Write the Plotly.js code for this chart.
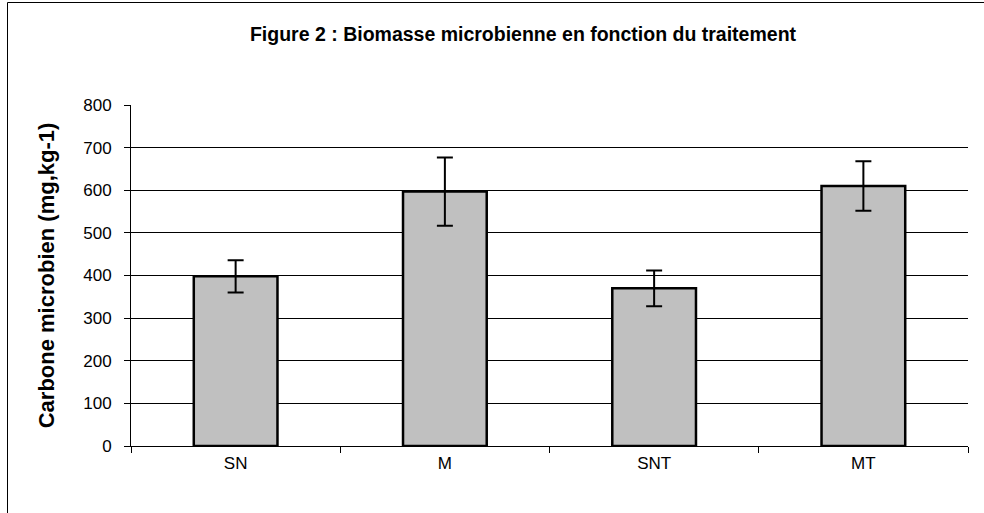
<!DOCTYPE html>
<html>
<head>
<meta charset="utf-8">
<script src="https://cdn.plot.ly/plotly-3.0.1.min.js"></script>
<style>html,body{margin:0;padding:0;background:#fff;}#chart{width:984px;height:513px;}</style>
</head>
<body>
<div id="chart"></div>
<script>
var categories = ["SN", "M", "SNT", "MT"];
var values = [398, 597, 370, 610];
var errors = [38, 80, 42, 58];
var yTicks = [0, 100, 200, 300, 400, 500, 600, 700, 800];

var L = 131, R = 16, T = 105, B = 67, W = 984, H = 513;
var pw = W - L - R, ph = H - T - B;
function px2x(p){ return (p - L) / pw; }
function py2y(p){ return (H - B - p) / ph; }

var trace = {
  type: "bar",
  x: categories,
  y: values,
  marker: {color: "#c0c0c0", line: {color: "#000000", width: 2.5}},
  error_y: {type: "data", array: errors, visible: true, color: "#000000", thickness: 2, width: 8},
  hoverinfo: "skip"
};

var layout = {
  width: W, height: H,
  margin: {l: L, r: R, t: T, b: B},
  paper_bgcolor: "#ffffff",
  plot_bgcolor: "#ffffff",
  font: {family: "Liberation Sans, Arial, sans-serif", color: "#000000", size: 17},
  title: {text: "<b>Figure 2 : Biomasse microbienne en fonction du traitement</b>",
          font: {size: 19.5, family: "Liberation Sans, Arial, sans-serif"},
          xref: "container", x: 523 / W, xanchor: "center",
          yref: "container", y: 1 - 34 / H, yanchor: "middle"},
  bargap: 0.6,
  showlegend: false,
  xaxis: {
    type: "category",
    showline: true, linecolor: "#000000", linewidth: 1,
    ticks: "outside", ticklen: 6, tickcolor: "#000000", tickson: "boundaries",
    ticklabelstandoff: 2,
    showgrid: false, zeroline: false,
    tickfont: {size: 17}
  },
  yaxis: {
    range: [0, 800],
    tickvals: yTicks,
    ticktext: yTicks.map(String),
    showline: true, linecolor: "#000000", linewidth: 1,
    ticks: "outside", ticklen: 6, tickcolor: "#000000",
    ticklabelstandoff: 9,
    showgrid: true, gridcolor: "#000000", gridwidth: 1,
    zeroline: false,
    tickfont: {size: 17},
    title: {text: "<b>Carbone microbien (mg,kg-1)</b>", font: {size: 22}, standoff: 22}
  },
  shapes: [
    {type: "rect", xref: "paper", yref: "paper",
     x0: px2x(7.5), x1: px2x(995), y0: py2y(525), y1: py2y(2.5),
     line: {color: "#000000", width: 1}, fillcolor: "rgba(0,0,0,0)", layer: "below"}
  ]
};

Plotly.newPlot("chart", [trace], layout, {displayModeBar: false, staticPlot: true});
</script>
</body>
</html>
